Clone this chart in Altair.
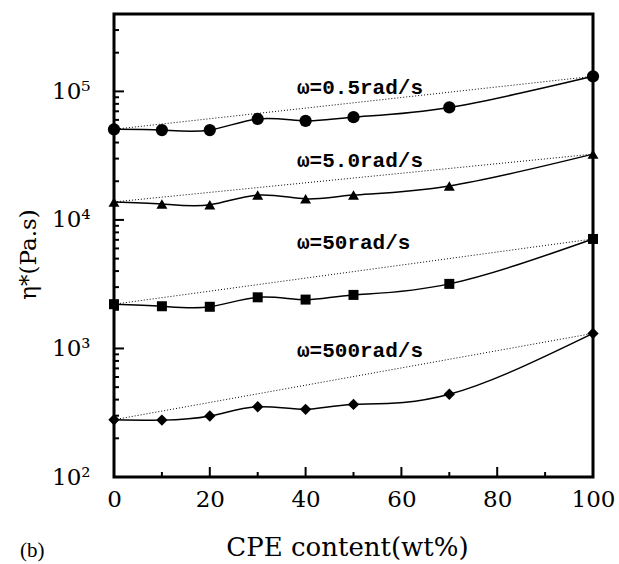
import altair as alt
import pandas as pd

# ---- data ----
cpe = [0, 10, 20, 30, 40, 50, 70, 100]
eta_05 = [50700, 50000, 50000, 61000, 59000, 63000, 75000, 131000]
eta_5 = [13800, 13300, 13100, 15600, 14600, 15600, 18400, 32500]
eta_50 = [2210, 2130, 2110, 2500, 2400, 2610, 3180, 7110]
eta_500 = [279, 277, 298, 352, 336, 367, 440, 1310]

series_names = ["0.5", "5.0", "50", "500"]
series_vals = [eta_05, eta_5, eta_50, eta_500]
series_shapes = ["circle", "triangle-up", "square", "diamond"]
series_sizes = [150, 120, 100, 130]

labels = ["ω=0.5rad/s", "ω=5.0rad/s", "ω=50rad/s", "ω=500rad/s"]
label_x = [38.2, 38.2, 38.2, 38.2]
label_y = [107000, 28700, 6600, 960]

x_major = [0, 20, 40, 60, 80, 100]
x_minor = [10, 30, 50, 70, 90]
y_major = [100, 1000, 10000, 100000]
y_minor = [m * 10 ** d for d in (2, 3, 4) for m in range(2, 10)] + [200000, 300000]

W, H = 479, 463

rows = []
for name, vals, shp, sz in zip(series_names, series_vals, series_shapes, series_sizes):
    for x, y in zip(cpe, vals):
        rows.append({"series": name, "x": x, "y": y, "shape": shp, "size": sz})
df = pd.DataFrame(rows)

ends = []
for name, vals in zip(series_names, series_vals):
    ends.append({"series": name, "x": cpe[0], "y": vals[0]})
    ends.append({"series": name, "x": cpe[-1], "y": vals[-1]})
df_ends = pd.DataFrame(ends)

df_lab = pd.DataFrame({"label": labels, "x": label_x, "y": label_y})

xscale = alt.Scale(domain=[0, 100], nice=False, zero=False)
yscale = alt.Scale(type="log", domain=[100, 400000], nice=False)

x_axis = alt.Axis(
    values=x_major, ticks=False, domain=False, grid=False,
    labelFont="DejaVu Serif", labelFontSize=23, labelColor="black",
    labelPadding=11, labelFlush=False, labelOverlap=False,
    title="CPE content(wt%)", titleFont="DejaVu Serif", titleFontSize=26,
    titleFontWeight="normal", titleColor="black",
    titleX=233, titleY=78, titleAlign="center", titleBaseline="alphabetic",
)
y_axis = alt.Axis(
    values=y_major, ticks=False, domain=False, grid=False,
    labelExpr="datum.value==100?'10²':datum.value==1000?'10³':datum.value==10000?'10⁴':'10⁵'",
    labelFont="DejaVu Serif", labelFontSize=23, labelColor="black",
    labelPadding=24, labelFlush=False, labelOverlap=False,
    title="η*(Pa.s)", titleFont="DejaVu Serif", titleFontSize=23,
    titleFontWeight="normal", titleColor="black",
    titleAngle=270, titleX=-86, titleY=240, titleAlign="center",
    titleBaseline="middle",
)

base = alt.Chart(df)

dotted = alt.Chart(df_ends).mark_line(
    color="black", strokeWidth=1, strokeDash=[1, 2], clip=False
).encode(
    x=alt.X("x:Q", scale=xscale, axis=x_axis),
    y=alt.Y("y:Q", scale=yscale, axis=y_axis),
    detail="series:N",
)

curves = base.mark_line(
    color="black", strokeWidth=1.5, interpolate="natural", clip=False
).encode(
    x=alt.X("x:Q", scale=xscale),
    y=alt.Y("y:Q", scale=yscale),
    detail="series:N",
)

points = base.mark_point(filled=True, color="black", opacity=1, clip=False).encode(
    x=alt.X("x:Q", scale=xscale),
    y=alt.Y("y:Q", scale=yscale),
    shape=alt.Shape("shape:N", scale=None, legend=None),
    size=alt.Size("size:Q", scale=None, legend=None),
)

texts = alt.Chart(df_lab).mark_text(
    align="left", baseline="middle", font="Liberation Mono",
    fontWeight="bold", fontSize=21, color="black",
).encode(
    x=alt.X("x:Q", scale=xscale),
    y=alt.Y("y:Q", scale=yscale),
    text="label:N",
)

# inward ticks
xmaj = alt.Chart(pd.DataFrame({"x": x_major})).mark_rule(color="black", strokeWidth=2).encode(
    x=alt.X("x:Q", scale=xscale), y=alt.value(H), y2=alt.value(H - 10))
xmin = alt.Chart(pd.DataFrame({"x": x_minor})).mark_rule(color="black", strokeWidth=2).encode(
    x=alt.X("x:Q", scale=xscale), y=alt.value(H), y2=alt.value(H - 5))
ymaj = alt.Chart(pd.DataFrame({"y": y_major})).mark_rule(color="black", strokeWidth=2).encode(
    y=alt.Y("y:Q", scale=yscale), x=alt.value(0), x2=alt.value(10))
ymin = alt.Chart(pd.DataFrame({"y": y_minor})).mark_rule(color="black", strokeWidth=2).encode(
    y=alt.Y("y:Q", scale=yscale), x=alt.value(0), x2=alt.value(5))

panel_tag = alt.Chart(pd.DataFrame({"t": ["(b)"]})).mark_text(
    align="left", baseline="middle", font="Liberation Serif", fontSize=21, color="black"
).encode(x=alt.value(-94), y=alt.value(537), text="t:N")

chart = alt.layer(
    dotted, curves, xmaj, xmin, ymaj, ymin, points, texts, panel_tag
).properties(
    width=W, height=H,
    autosize=alt.AutoSizeParams(type="none"),
    padding={"left": 114, "top": 14, "right": 26, "bottom": 87},
    background="white",
).configure_view(
    stroke="black", strokeWidth=3,
)

chart.save("out.html", embed_options={"renderer": "svg", "actions": False})
